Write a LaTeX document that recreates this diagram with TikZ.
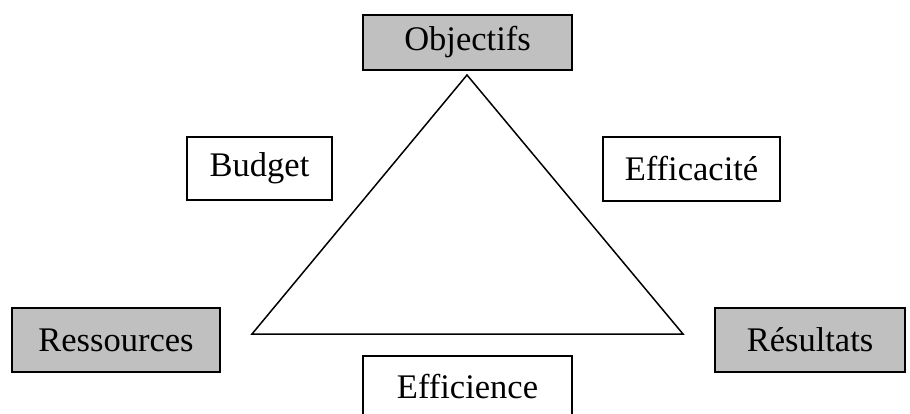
\documentclass[tikz,border=0pt]{standalone}
\usepackage{fontspec}
\setmainfont{Liberation Serif}
\tikzset{
  box/.style={draw=black, line width=1.5pt, inner sep=0pt, font=\fontsize{34.5}{41}\selectfont, text=black},
  graybox/.style={box, fill={rgb,255:red,192;green,192;blue,192}},
  whitebox/.style={box, fill=white},
  tri/.style={draw=black, line width=1.5pt, line join=miter}
}
\begin{document}
\begin{tikzpicture}[x=1pt,y=-1pt]
\useasboundingbox (0,0) rectangle (910,414);
% triangle
\coordinate (apex) at (467,75);
\coordinate (bl) at (252,334);
\coordinate (br) at (683,334);
\draw[tri] (apex) -- (br) -- (bl) -- cycle;
% boxes
\node[graybox, minimum width=209pt, minimum height=55pt] (obj) at (467.5,42.5) {Objectifs};
\node[whitebox, minimum width=145pt, minimum height=63pt] (bud) at (259.5,168.5) {Budget};
\node[whitebox, minimum width=177pt, minimum height=64pt] (eff) at (691.5,169) {Efficacité};
\node[graybox, minimum width=208pt, minimum height=64pt] (res) at (116,340) {Ressources};
\node[graybox, minimum width=190pt, minimum height=64pt] (resu) at (810,340) {Résultats};
\node[whitebox, minimum width=209pt, minimum height=62pt] (effi) at (467.5,387) {Efficience};
\end{tikzpicture}
\end{document}
